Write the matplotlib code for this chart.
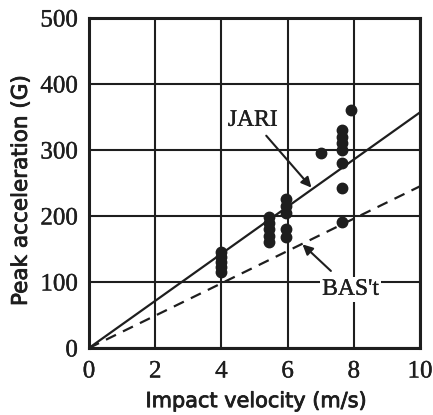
import numpy as np
import matplotlib
matplotlib.use("Agg")
import matplotlib.pyplot as plt
import matplotlib.patheffects as pe

# measured points (impact velocity m/s, peak acceleration G)
vel = [4, 4, 4, 4, 4,
       5.45, 5.45, 5.45, 5.45, 5.45,
       5.95, 5.95, 5.95, 5.95, 5.95,
       7.0,
       7.65, 7.65, 7.65, 7.65, 7.65, 7.65, 7.65,
       7.92]
acc = [115, 122, 130, 138, 145,
       160, 170, 180, 190, 199,
       205, 215, 226, 168, 180,
       295,
       300, 310, 320, 330, 280, 242, 191,
       360]

# regression lines through origin
line_v = [0, 10]
jari_slope = 35.7
bast_slope = 24.5

xticks = [0, 2, 4, 6, 8, 10]
yticks = [0, 100, 200, 300, 400, 500]

ink = '#1e1e1e'
thin = [pe.withStroke(linewidth=0.25, foreground=ink)]
semi = [pe.withStroke(linewidth=0.6, foreground=ink)]

fig = plt.figure(figsize=(4.33, 4.15), dpi=100, facecolor='w')
ax = fig.add_axes([89/433, 67/415, 331/433, 330/415])

ax.plot(line_v, [v*jari_slope for v in line_v], color=ink, lw=1.6, zorder=3)
ax.plot(line_v, [v*bast_slope for v in line_v], color=ink, lw=1.6,
        linestyle=(0, (5, 3.5)), zorder=3)
ax.plot(vel, acc, 'o', color=ink, ms=7.5, zorder=4)

ax.set_xlim(0, 10)
ax.set_ylim(0, 500)
ax.set_xticks(xticks)
ax.set_yticks(yticks)
ax.grid(True, color=ink, lw=1.5)
ax.set_axisbelow(True)
for s in ax.spines.values():
    s.set_linewidth(2.2)
    s.set_color(ink)
ax.tick_params(length=0, labelsize=18, colors=ink)
ax.tick_params(axis='x', pad=9)
ax.tick_params(axis='y', pad=8)
for lab in ax.get_xticklabels() + ax.get_yticklabels():
    lab.set_family('Liberation Serif')
    lab.set_path_effects(thin)

ax.set_xlabel('Impact velocity (m/s)', fontsize=15, family='DejaVu Sans',
              color=ink, va='center', path_effects=semi)
ax.set_ylabel('Peak acceleration (G)', fontsize=15.5, family='DejaVu Sans',
              color=ink, va='center', path_effects=semi)
ax.xaxis.set_label_coords(0.505, -0.161)
ax.yaxis.set_label_coords(-0.206, 0.476)

ax.annotate('JARI', xy=(6.72, 243), xytext=(4.95, 345), ha='center', va='center',
            fontsize=17, family='Liberation Serif', color=ink,
            bbox=dict(fc='w', ec='none', pad=0.5), path_effects=thin,
            arrowprops=dict(arrowstyle='-|>', color=ink, lw=1.5,
                            shrinkA=4, shrinkB=0, mutation_scale=15), zorder=5)
ax.annotate("BAS't", xy=(6.45, 157), xytext=(7.9, 89), ha='center', va='center',
            fontsize=17, family='Liberation Serif', color=ink,
            bbox=dict(fc='w', ec='none', pad=1.5), path_effects=thin,
            arrowprops=dict(arrowstyle='-|>', color=ink, lw=1.5,
                            shrinkA=6, shrinkB=0, mutation_scale=15), zorder=5)

fig.savefig('out.png', dpi=100)
